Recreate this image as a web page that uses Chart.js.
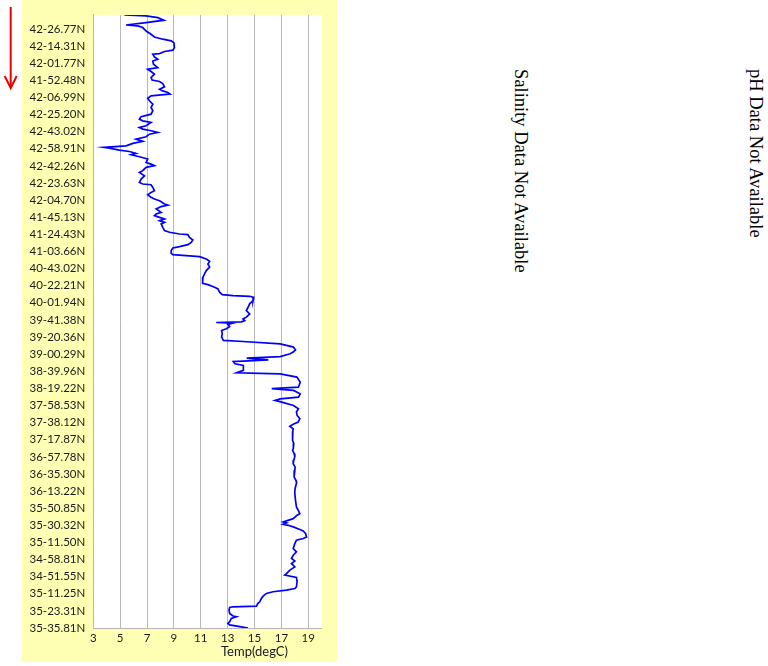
<!DOCTYPE html>
<html><head><meta charset="utf-8">
<script src="https://cdn.jsdelivr.net/npm/chart.js@4/dist/chart.umd.min.js"></script>
<style>
html,body{margin:0;padding:0;background:#fff;}
#panel{position:absolute;left:22px;top:0;width:315px;height:662px;background:#FFFFB4;}
canvas{display:block}
.vt{position:absolute;top:69px;white-space:nowrap;font-family:"Liberation Serif","Times New Roman",serif;font-size:18.5px;line-height:18.5px;color:#000;transform-origin:0 0;transform:rotate(90deg);}
#arrow{position:absolute;left:0;top:0;}
</style></head><body>
<svg id="arrow" width="22" height="100" viewBox="0 0 22 100">
  <line x1="10.7" y1="7" x2="10.7" y2="87" stroke="#EE0000" stroke-width="2"/>
  <polyline points="4.7,76 10.7,88 16.7,76" fill="none" stroke="#EE0000" stroke-width="2"/>
</svg>
<div id="panel"><canvas id="c" width="315" height="662"></canvas></div>
<div class="vt" style="left:529.5px">Salinity Data Not Available</div>
<div class="vt" style="left:764.5px">pH Data Not Available</div>
<script>
const latLabels = ["42-26.77N","42-14.31N","42-01.77N","41-52.48N","42-06.99N","42-25.20N","42-43.02N","42-58.91N","42-42.26N","42-23.63N","42-04.70N","41-45.13N","41-24.43N","41-03.66N","40-43.02N","40-22.21N","40-01.94N","39-41.38N","39-20.36N","39-00.29N","38-39.96N","38-19.22N","37-58.53N","37-38.12N","37-17.87N","36-57.78N","36-35.30N","36-13.22N","35-50.85N","35-30.32N","35-11.50N","34-58.81N","34-51.55N","35-11.25N","35-23.31N","35-35.81N"];
const xTicks = [3,5,7,9,11,13,15,17,19];
// position along the track, in label steps (0 = first label)
const trackPos = [
-0.82,-0.76,-0.66,-0.51,-0.37,-0.23,-0.18,-0.08,0.12,0.31,0.47,0.60,0.70,0.80,1.09,1.24,1.32,1.44,1.48,1.63,1.77,1.87,2.06,2.26,2.35,2.49,2.64,2.84,2.99,3.07,3.19,3.38,3.52,3.62,3.71,3.81,3.85,3.91,4.05,4.20,4.40,4.59,4.78,4.98,5.13,5.27,5.37,5.46,5.66,5.76,5.85,5.95,6.05,6.15,6.30,6.44,6.57,6.69,6.83,6.92,6.96,7.08,7.16,7.27,7.35,7.47,7.60,7.80,7.90,7.99,8.09,8.28,
8.38,8.58,8.77,8.97,9.06,9.10,9.26,9.45,9.55,9.69,9.84,9.94,10.04,10.23,10.29,10.38,10.52,10.72,10.81,10.91,11.01,11.10,11.20,11.30,11.39,11.59,11.78,11.88,11.98,12.02,12.18,12.33,12.47,12.60,12.72,12.80,12.95,13.11,13.19,13.26,13.30,13.44,13.57,13.73,13.92,14.12,14.31,14.51,14.70,14.86,14.94,15.09,15.19,15.38,15.52,15.58,15.62,15.68,15.87,16.06,16.26,16.45,16.65,16.84,16.94,17.04,17.11,17.15,17.19,17.27,17.39,17.52,17.62,
17.81,17.99,18.20,18.26,18.40,18.59,18.75,18.88,18.98,19.14,19.23,19.33,19.41,19.43,19.56,19.66,19.95,20.09,20.15,20.34,20.63,20.93,21.02,21.12,21.32,21.51,21.61,21.70,21.80,22.00,22.19,22.38,22.58,22.77,22.97,23.10,23.22,23.36,23.50,23.65,23.85,24.04,24.20,24.33,24.50,24.62,24.80,25.01,25.20,25.40,25.60,25.79,26.00,26.18,26.40,26.56,26.75,26.95,
27.15,27.54,27.93,28.12,28.32,28.41,28.61,28.80,28.86,28.94,29.00,29.09,29.25,29.33,29.48,29.68,29.77,29.87,30.07,30.36,30.55,30.75,30.94,31.08,31.23,31.43,31.62,31.82,31.91,32.05,32.30,32.59,32.69,32.79,32.88,32.98,33.14,33.27,33.47,33.56,33.72,33.76,33.80,33.95,34.15,34.30,34.34,34.44,34.63,34.73,34.82,34.92,35.00
];
const tempC = [
5.31,6.93,7.80,8.25,6.93,5.44,6.31,6.68,6.93,7.30,7.55,8.17,8.80,9.00,9.04,8.92,8.30,7.93,7.43,7.55,7.80,7.43,7.48,7.80,7.05,7.30,7.55,7.30,7.38,7.93,8.17,8.30,7.93,8.17,8.55,8.72,8.05,7.30,7.05,7.18,7.43,7.30,7.43,7.30,6.56,6.43,6.68,7.30,6.93,6.43,6.68,7.30,7.80,7.18,6.93,6.18,6.68,5.94,5.44,3.82,4.19,4.94,5.69,6.18,5.81,6.43,7.05,6.93,7.30,7.55,6.93,6.68,
6.43,6.81,6.56,6.43,6.68,7.30,7.43,7.55,7.30,7.05,7.30,7.55,7.93,8.30,8.55,8.05,7.68,8.05,7.68,7.55,7.93,8.30,7.93,8.30,8.05,8.17,8.30,8.67,9.42,10.04,10.16,10.41,10.29,10.04,9.42,8.92,8.80,8.80,8.92,10.16,10.91,11.41,11.66,11.53,11.66,11.41,11.28,11.16,11.11,11.16,11.53,12.03,12.28,12.40,12.60,13.40,14.64,14.94,14.89,14.64,14.52,14.39,14.64,14.39,14.14,14.27,14.02,12.15,13.40,13.02,13.15,12.90,12.55,
12.60,12.55,12.68,14.14,16.91,17.90,18.05,17.88,17.65,16.91,14.42,16.03,14.17,13.42,13.55,14.17,14.17,13.67,16.91,18.15,18.40,18.27,16.28,17.90,18.40,18.27,16.91,16.53,17.03,17.90,18.27,18.12,18.17,18.37,18.25,17.88,17.63,17.88,17.85,17.80,17.86,17.83,17.92,17.88,17.90,17.83,17.95,18.00,17.92,17.88,18.02,18.00,17.95,17.95,18.10,18.12,18.05,18.00,
18.00,18.05,18.12,18.25,18.37,18.17,17.88,17.13,17.38,17.13,17.50,17.88,18.37,18.62,18.80,18.87,18.62,18.12,18.00,17.88,18.12,17.88,17.75,18.00,17.75,18.00,17.63,17.38,17.25,18.12,18.17,18.12,18.00,17.38,16.38,15.89,15.64,15.51,15.39,15.26,15.14,13.40,13.15,13.10,13.15,13.40,13.65,13.27,13.15,13.02,13.15,13.90,14.52
];

const points = trackPos.map((p, i) => ({ x: tempC[i], y: p }));
const labelFont = { family: 'Lato', size: 11.5 };

const plotBg = {
  id: 'plotBg',
  beforeDraw(chart) {
    const { ctx, chartArea: a } = chart;
    ctx.save();
    ctx.fillStyle = '#FFFFFF';
    ctx.fillRect(a.left, a.top, a.right - a.left, a.bottom - a.top);
    ctx.restore();
  }
};
const xTitle = {
  id: 'xTitle',
  afterDraw(chart) {
    const { ctx } = chart;
    const xs = chart.scales.x;
    ctx.save();
    ctx.font = '13px Lato';
    ctx.fillStyle = '#1a1a1a';
    ctx.textAlign = 'center';
    ctx.textBaseline = 'middle';
    ctx.fillText('Temp(degC)', xs.getPixelForValue(15), xs.bottom - 10);
    ctx.restore();
  }
};

new Chart(document.getElementById('c'), {
  type: 'scatter',
  data: { datasets: [{ data: points, showLine: true, borderColor: '#0000FF', borderWidth: 1.7, pointRadius: 0, pointHoverRadius: 0, tension: 0, fill: false }] },
  options: {
    responsive: false, animation: false, devicePixelRatio: 1,
    layout: { padding: { top: 14, right: 15.3, left: 0, bottom: 0 } },
    plugins: { legend: { display: false }, tooltip: { enabled: false } },
    scales: {
      x: {
        type: 'linear', min: 3, max: 20,
        afterBuildTicks: s => { s.ticks = xTicks.map(v => ({ value: v })); },
        afterFit: s => { s.height = 34; },
        grid: { color: '#B8B8B8', lineWidth: 1, drawTicks: false },
        border: { display: true, color: '#B8B8B8' },
        ticks: { padding: 3, color: '#1a1a1a', font: labelFont, maxRotation: 0, autoSkip: false }
      },
      y: {
        type: 'linear', reverse: true, min: -0.82, max: 35,
        afterBuildTicks: s => { s.ticks = latLabels.map((_, i) => ({ value: i })); },
        afterFit: s => { s.width = 71.3; },
        grid: { display: false, drawTicks: false },
        border: { display: true, color: '#B8B8B8' },
        ticks: { autoSkip: false, padding: 8, color: '#1a1a1a', font: labelFont, callback: v => latLabels[v] }
      }
    }
  },
  plugins: [plotBg, xTitle]
});
</script>
</body></html>
